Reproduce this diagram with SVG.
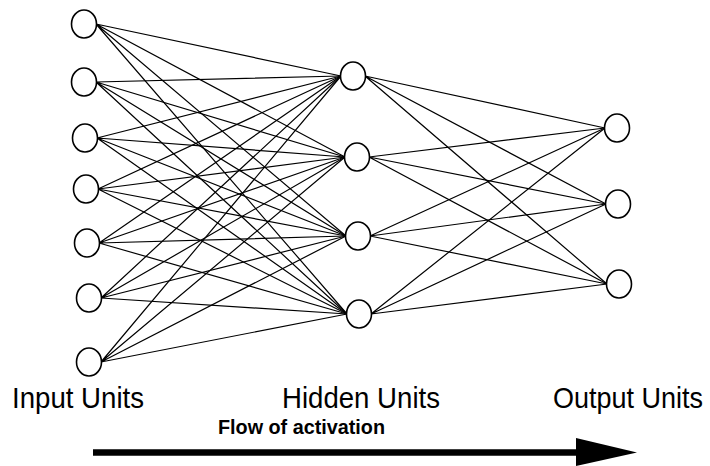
<svg xmlns="http://www.w3.org/2000/svg" width="710" height="466" viewBox="0 0 710 466">
<style>
.node{fill:#fff;stroke:#000;stroke-width:1.6}
.edge{stroke:#000;stroke-width:1.2;fill:none}
.lbl{font-family:"Liberation Sans",Arial,sans-serif;font-size:29px;fill:#000}
.flow{font-family:"Liberation Sans",Arial,sans-serif;font-size:20.5px;font-weight:bold;fill:#000}
</style>
<rect width="710" height="466" fill="#fff"/>
<g id="connectors">
<g class="edge">
<path d="M96 24L341 76M96 24L345 157M96 24L346 236M96 24L347 314"/>
<path d="M96 82L341 76M96 82L345 157M96 82L346 236M96 82L347 314"/>
<path d="M97 138L341 76M97 138L345 157M97 138L346 236M97 138L347 314"/>
<path d="M98 189L341 76M98 189L345 157M98 189L346 236M98 189L347 314"/>
<path d="M99 243L341 76M99 243L345 157M99 243L346 236M99 243L347 314"/>
<path d="M101 298L341 76M101 298L345 157M101 298L346 236M101 298L347 314"/>
<path d="M101 362L341 76M101 362L345 157M101 362L346 236M101 362L347 314"/>
<path d="M365 76L605 128M365 76L606 204M365 76L607 284"/>
<path d="M369 157L605 128M369 157L606 204M369 157L607 284"/>
<path d="M370 236L605 128M370 236L606 204M370 236L607 284"/>
<path d="M371 314L605 128M371 314L606 204M371 314L607 284"/>
</g>
</g>
<g id="input-nodes">
<g id="in1"><ellipse class="node" cx="84" cy="24" rx="12.5" ry="14"/></g>
<g id="in2"><ellipse class="node" cx="84" cy="82" rx="12.5" ry="14"/></g>
<g id="in3"><ellipse class="node" cx="85" cy="138" rx="12.5" ry="14"/></g>
<g id="in4"><ellipse class="node" cx="86" cy="189" rx="12.5" ry="14"/></g>
<g id="in5"><ellipse class="node" cx="87" cy="243" rx="12.5" ry="14"/></g>
<g id="in6"><ellipse class="node" cx="89" cy="298" rx="12.5" ry="14"/></g>
<g id="in7"><ellipse class="node" cx="89" cy="362" rx="12.5" ry="14"/></g>
</g>
<g id="hidden-nodes">
<g id="h1"><ellipse class="node" cx="353" cy="76" rx="12.5" ry="14"/></g>
<g id="h2"><ellipse class="node" cx="357" cy="157" rx="12.5" ry="14"/></g>
<g id="h3"><ellipse class="node" cx="358" cy="236" rx="12.5" ry="14"/></g>
<g id="h4"><ellipse class="node" cx="359" cy="314" rx="12.5" ry="14"/></g>
</g>
<g id="output-nodes">
<g id="o1"><ellipse class="node" cx="617" cy="128" rx="12.5" ry="14"/></g>
<g id="o2"><ellipse class="node" cx="618" cy="204" rx="12.5" ry="14"/></g>
<g id="o3"><ellipse class="node" cx="619" cy="284" rx="12.5" ry="14"/></g>
</g>
<g id="labels">
<text class="lbl" x="12" y="408" textLength="132" lengthAdjust="spacingAndGlyphs">Input Units</text>
<text class="lbl" x="282" y="408" textLength="158" lengthAdjust="spacingAndGlyphs">Hidden Units</text>
<text class="lbl" x="0" y="0" style="font-size:27px" transform="translate(553,408) scale(1,1.08)">Output Units</text>
</g>
<g id="flow-arrow">
<line x1="93" y1="452.5" x2="580" y2="452.5" stroke="#000" stroke-width="6.5"/>
<polygon points="576,438 637,452.5 576,466" fill="#000"/>
<text class="flow" x="218" y="434" textLength="167" lengthAdjust="spacingAndGlyphs">Flow of activation</text>
</g>
</svg>
